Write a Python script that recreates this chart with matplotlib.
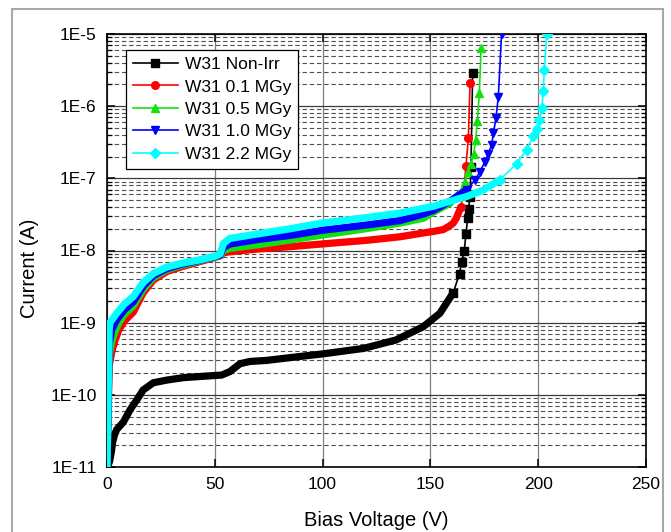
import numpy as np
import matplotlib
matplotlib.use("Agg")
import matplotlib.pyplot as plt
from matplotlib.lines import Line2D
from matplotlib.patches import Rectangle
from matplotlib.ticker import LogLocator, FuncFormatter, MultipleLocator, NullFormatter

plt.rcParams['font.family'] = ['Liberation Sans', 'DejaVu Sans']

# I-V curves, wafer W31, before and after irradiation
labels = ["W31 Non-Irr", "W31 0.1 MGy", "W31 0.5 MGy", "W31 1.0 MGy", "W31 2.2 MGy"]
colors = ["#000000", "#ff0000", "#12e012", "#0000ff", "#00ffff"]
markers = ["s", "o", "^", "v", "D"]

v_nonirr = [0, 0.5, 1.2, 2.0, 2.6, 3.5, 4.5, 7.6, 10.7, 13.8, 16.8, 21.5, 27.7, 35.4, 46, 53.2,
            57, 61.7, 66.3, 74, 89.5, 100.3, 119, 134, 146.7, 154.4, 160.6, 163.5, 164.5,
            165.7, 166.5, 167.3, 167.7, 168.4, 168.8, 169.6]
i_nonirr = [1.0e-11, 1.05e-11, 1.2e-11, 1.6e-11, 2.2e-11, 2.8e-11, 3.3e-11, 4.2e-11, 6.2e-11,
            8.5e-11, 1.17e-10, 1.47e-10, 1.6e-10, 1.73e-10, 1.82e-10, 1.88e-10, 2.1e-10,
            2.7e-10, 2.9e-10, 3.0e-10, 3.4e-10, 3.7e-10, 4.4e-10, 5.75e-10, 8.8e-10, 1.35e-9,
            2.6e-9, 4.8e-9, 6.9e-9, 1.0e-8, 1.7e-8, 2.8e-8, 3.8e-8, 5.6e-8, 1.45e-7, 2.85e-6]

v_01 = [0, 1, 2.2, 3.7, 5.5, 8, 12.2, 16.8, 21.5, 27.7, 35, 43, 50, 52.5, 54, 57, 70, 85,
        99.5, 120, 136, 146.7, 152, 156, 159, 160.6, 162, 163, 164.2, 165.5, 166.5, 167.6, 168.4]
i_01 = [1.0e-11, 2.5e-10, 3.9e-10, 5.7e-10, 7.9e-10, 1.05e-9, 1.4e-9, 2.6e-9, 3.9e-9, 5.1e-9,
        6.0e-9, 7.0e-9, 8.0e-9, 8.4e-9, 9.3e-9, 9.6e-9, 1.05e-8, 1.13e-8, 1.23e-8, 1.38e-8,
        1.55e-8, 1.75e-8, 1.85e-8, 1.95e-8, 2.2e-8, 2.4e-8, 2.8e-8, 3.3e-8, 4.0e-8, 7.0e-8,
        1.48e-7, 3.6e-7, 2.1e-6]

v_05 = [0, 1, 2.2, 3.7, 5.5, 8, 12.2, 16.8, 21.5, 27.7, 35, 43, 50, 52.5, 54, 57, 70, 85,
        99.5, 120, 136, 146.7, 151.4, 159, 163.7, 166, 167.6, 168.8, 170.1, 171, 171.8, 172.7, 173.5]
i_05 = [1.0e-11, 3.5e-10, 5.5e-10, 7.5e-10, 1.0e-9, 1.3e-9, 1.7e-9, 2.9e-9, 4.2e-9, 5.4e-9,
        6.3e-9, 7.2e-9, 8.1e-9, 8.5e-9, 1.0e-8, 1.07e-8, 1.2e-8, 1.4e-8, 1.63e-8, 2.0e-8,
        2.4e-8, 2.8e-8, 3.4e-8, 4.5e-8, 6.2e-8, 9.0e-8, 1.24e-7, 1.6e-7, 2.2e-7, 3.4e-7,
        6.3e-7, 1.5e-6, 6.3e-6]

v_10 = [0, 1, 2.2, 4.5, 8, 12.2, 16.8, 21.5, 27.7, 35, 43, 50, 52.5, 54, 57, 70, 85, 99.5,
        120, 136, 146.7, 151.4, 159, 166.8, 170.7, 173, 175.3, 176.9, 178.4, 179.2, 180.4,
        181.5, 183]
i_10 = [1.0e-11, 5.0e-10, 8.0e-10, 1.1e-9, 1.5e-9, 1.95e-9, 3.2e-9, 4.5e-9, 5.6e-9, 6.5e-9,
        7.3e-9, 8.2e-9, 8.7e-9, 1.1e-8, 1.23e-8, 1.42e-8, 1.62e-8, 1.9e-8, 2.25e-8, 2.6e-8,
        3.2e-8, 3.6e-8, 4.8e-8, 6.9e-8, 9.5e-8, 1.24e-7, 1.7e-7, 2.2e-7, 2.9e-7, 4.2e-7,
        6.8e-7, 1.35e-6, 1.0e-5]

v_22 = [0, 1, 1.4, 4.5, 8, 12.2, 16.8, 21.5, 27.7, 35, 43, 50, 52.5, 54, 57, 70, 85, 99.5,
        120, 136, 151.4, 159, 166.8, 174.6, 182.3, 190, 194.6, 197.7, 199.3, 200.5, 201.6,
        202.4, 202.8, 204]
i_22 = [1.0e-11, 8.0e-10, 1.0e-9, 1.35e-9, 1.8e-9, 2.3e-9, 3.6e-9, 4.8e-9, 5.9e-9, 6.7e-9,
        7.4e-9, 8.3e-9, 9.0e-9, 1.25e-8, 1.47e-8, 1.7e-8, 2.0e-8, 2.4e-8, 2.85e-8, 3.3e-8,
        4.1e-8, 4.8e-8, 5.6e-8, 6.9e-8, 9.6e-8, 1.6e-7, 2.5e-7, 3.8e-7, 4.9e-7, 6.5e-7,
        9.3e-7, 1.6e-6, 3.2e-6, 1.0e-5]

voltages = [v_nonirr, v_01, v_05, v_10, v_22]
currents = [i_nonirr, i_01, i_05, i_10, i_22]
# below these voltages the points are so dense that they merge into a band
knees = [160, 164, 163, 166, 182]

fig = plt.figure(figsize=(6.71, 5.32), dpi=100)
ax = fig.add_axes([107 / 671, 1 - 467 / 532, 539 / 671, 433 / 532])

for v, cur, col, mk, knee in zip(voltages, currents, colors, markers, knees):
    v = np.asarray(v)
    cur = np.asarray(cur)
    k = int(np.searchsorted(v, knee))
    ax.plot(v[:k + 1], cur[:k + 1], color=col, lw=5.2, solid_capstyle="butt",
            solid_joinstyle="miter", zorder=3)
    ax.plot(v[k:], cur[k:], color=col, lw=1.2, marker=mk, ms=5.5, mec=col, mfc=col, zorder=3)

ax.set_yscale("log")
ax.set_xlim(0, 250)
ax.set_ylim(1e-11, 1e-5)

ax.xaxis.set_major_locator(MultipleLocator(50))
ax.yaxis.set_major_locator(LogLocator(base=10, numticks=20))
ax.yaxis.set_minor_locator(LogLocator(base=10, subs=np.arange(2, 10), numticks=20))
ax.yaxis.set_major_formatter(FuncFormatter(lambda y, pos: "1E%d" % int(round(np.log10(y)))))
ax.yaxis.set_minor_formatter(NullFormatter())

ax.tick_params(which="both", direction="in", top=True, right=True, labelsize=12.5,
               colors="black")
ax.tick_params(which="major", length=6, width=1.1, pad=7.5)
ax.tick_params(which="minor", length=3.5, width=0.9)

ax.grid(which="major", axis="y", color="#3c3c3c", lw=0.9, ls="-", zorder=1)
ax.grid(which="major", axis="x", color="#808080", lw=0.9, ls="-", zorder=1)
ax.grid(which="minor", axis="y", color="#505050", lw=0.8, ls=(0, (4, 2.5)), zorder=1)
ax.set_axisbelow(True)

for sp in ax.spines.values():
    sp.set_linewidth(1.2)

ax.set_xlabel("Bias Voltage (V)", fontsize=14.5)
ax.set_ylabel("Current (A)", fontsize=14.5)
ax.xaxis.set_label_coords(0.5, -0.102)
ax.yaxis.set_label_coords(-0.127, 0.46)

handles = [Line2D([], [], color=c, lw=1.2, marker=m, ms=5.5) for c, m in zip(colors, markers)]
leg = ax.legend(handles, labels, loc="upper left", bbox_to_anchor=(0.035, 0.963),
                borderaxespad=0, fontsize=12.5, frameon=True, fancybox=False,
                edgecolor="black", framealpha=1, numpoints=1, handlelength=2.6,
                handletextpad=0.4, labelspacing=0.42, borderpad=0.4)
leg.get_frame().set_linewidth(0.9)
leg.set_zorder(5)

fig.patches.append(Rectangle((12 / 671, -0.01), 651 / 671, 1.01 - 9 / 532,
                             transform=fig.transFigure, fill=False, edgecolor="#a8a8a8",
                             lw=1.5))

fig.savefig("out.png", dpi=100)
